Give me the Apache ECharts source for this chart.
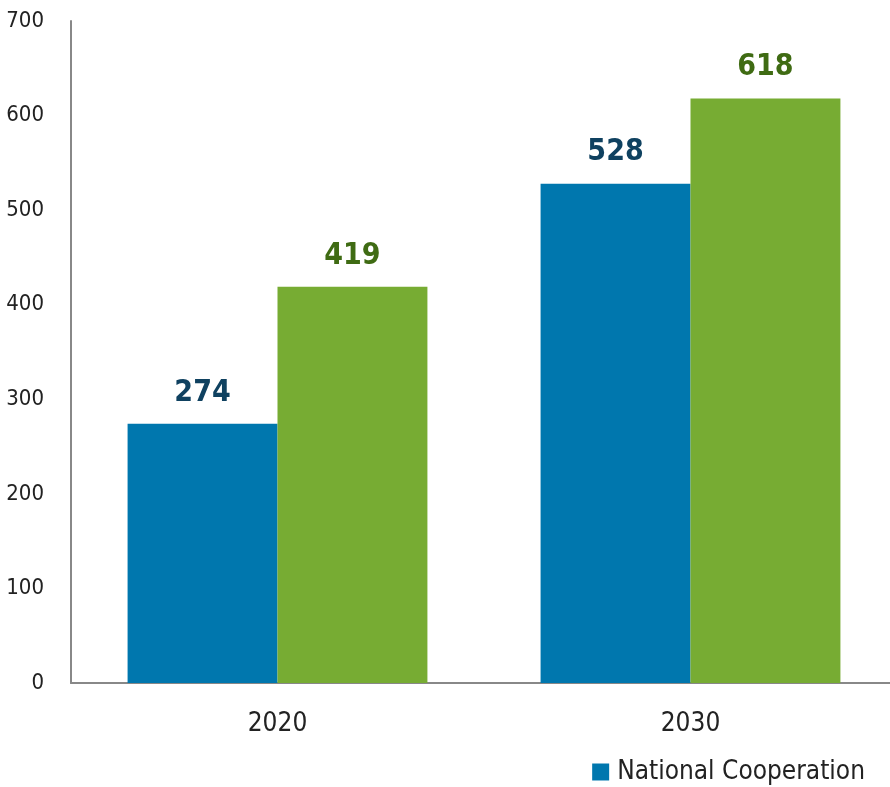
<!DOCTYPE html>
<html>
<head>
<meta charset="utf-8">
<script src="https://cdn.jsdelivr.net/npm/echarts@6/dist/echarts.min.js"></script>
<style>
  html, body { margin: 0; padding: 0; background: #fff; }
  #chart { width: 890px; height: 787px; }
</style>
</head>
<body>
<div id="chart"></div>
<script>
// Categories and series values
const years = ['2020', '2030'];
const nationalCooperation = [274, 528];
const secondSeries = [419, 618];

const FONT = '"Liberation Sans Narrow", "DejaVu Sans Condensed", "Liberation Sans", Arial, sans-serif';

const chart = echarts.init(document.getElementById('chart'));
chart.setOption({
  animation: false,
  grid: { left: 71, top: 21, width: 826, bottom: 104, containLabel: false, outerBoundsMode: 'none' },
  legend: {
    data: ['National Cooperation'],
    right: 20,
    bottom: -3,
    itemWidth: 17,
    itemHeight: 17,
    itemGap: 10,
    icon: 'rect',
    textStyle: { fontFamily: FONT, fontSize: 26, color: '#222', padding: [0, 0, 0, 3] }
  },
  xAxis: {
    type: 'category',
    data: years,
    axisLine: { lineStyle: { color: '#888', width: 2 } },
    axisTick: { show: false },
    axisLabel: { fontFamily: FONT, fontSize: 26, color: '#222', margin: 28 }
  },
  yAxis: {
    type: 'value',
    min: 0,
    max: 700,
    interval: 100,
    axisLine: { show: true, lineStyle: { color: '#888', width: 2 } },
    axisTick: { show: false },
    splitLine: { show: false },
    axisLabel: { fontFamily: FONT, fontSize: 22, color: '#222', margin: 27 }
  },
  series: [
    {
      name: 'National Cooperation',
      type: 'bar',
      data: nationalCooperation,
      barGap: '0%',
      barCategoryGap: '27.4%',
      itemStyle: { color: '#0077ae' },
      label: {
        show: true,
        position: 'top',
        distance: 16,
        fontFamily: FONT,
        fontWeight: 'bold',
        fontSize: 30,
        color: '#0f4160'
      }
    },
    {
      name: 'Projected',
      type: 'bar',
      data: secondSeries,
      barGap: '0%',
      barCategoryGap: '27.4%',
      itemStyle: { color: '#77ac33' },
      label: {
        show: true,
        position: 'top',
        distance: 16,
        fontFamily: FONT,
        fontWeight: 'bold',
        fontSize: 30,
        color: '#3f6b13'
      }
    }
  ]
});
</script>
</body>
</html>
